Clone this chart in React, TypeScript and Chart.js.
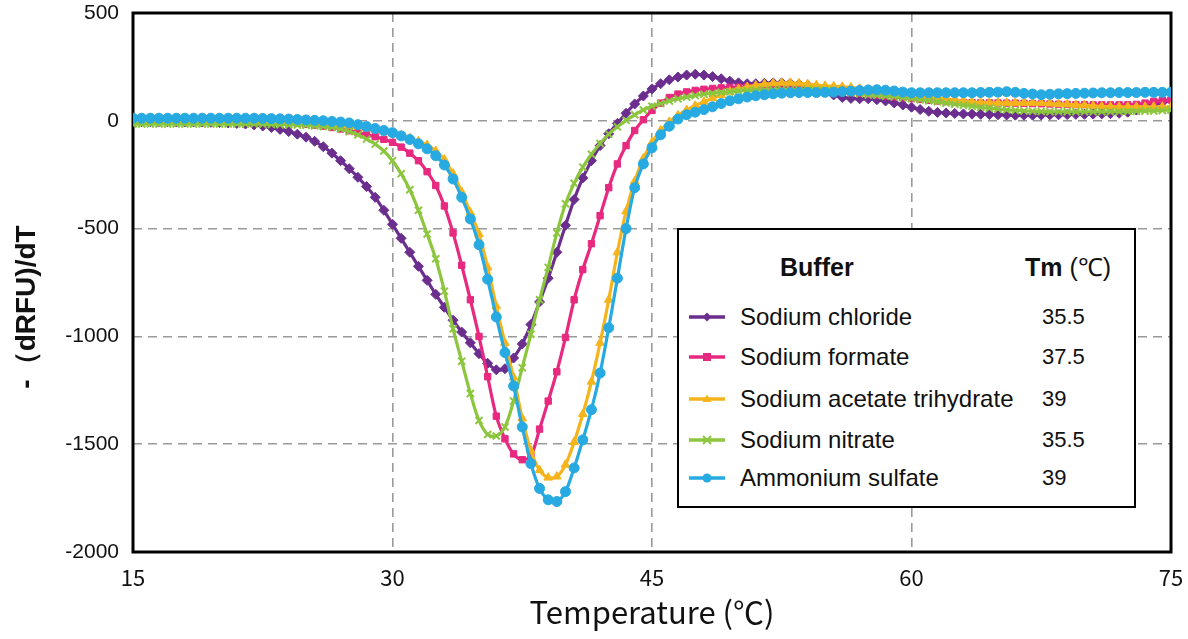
import React, { useEffect, useRef } from "react";
import { Chart, registerables } from "chart.js";
Chart.register(...registerables);

const temperatures = [
  15, 15.5, 16, 16.5, 17, 17.5, 18, 18.5, 19, 19.5,
  20, 20.5, 21, 21.5, 22, 22.5, 23, 23.5, 24, 24.5,
  25, 25.5, 26, 26.5, 27, 27.5, 28, 28.5, 29, 29.5,
  30, 30.5, 31, 31.5, 32, 32.5, 33, 33.5, 34, 34.5,
  35, 35.5, 36, 36.5, 37, 37.5, 38, 38.5, 39, 39.5,
  40, 40.5, 41, 41.5, 42, 42.5, 43, 43.5, 44, 44.5,
  45, 45.5, 46, 46.5, 47, 47.5, 48, 48.5, 49, 49.5,
  50, 50.5, 51, 51.5, 52, 52.5, 53, 53.5, 54, 54.5,
  55, 55.5, 56, 56.5, 57, 57.5, 58, 58.5, 59, 59.5,
  60, 60.5, 61, 61.5, 62, 62.5, 63, 63.5, 64, 64.5,
  65, 65.5, 66, 66.5, 67, 67.5, 68, 68.5, 69, 69.5,
  70, 70.5, 71, 71.5, 72, 72.5, 73, 73.5, 74, 74.5,
  75,
];

const sodiumChloride = [
  -4, -4, -4, -4, -4, -5, -5, -5, -6, -7,
  -8, -10, -12, -15, -19, -24, -31, -40, -50, -62,
  -76, -95, -120, -150, -185, -222, -262, -305, -355, -415,
  -480, -545, -610, -675, -740, -805, -865, -925, -980, -1030,
  -1080, -1125, -1155, -1150, -1100, -1035, -945, -840, -730, -610,
  -485, -365, -265, -185, -115, -60, -12, 35, 78, 115,
  148, 172, 190, 203, 212, 216, 212, 205, 195, 184,
  176, 172, 172, 174, 176, 176, 174, 170, 165, 152,
  135, 120, 108, 104, 102, 102, 98, 92, 83, 73,
  63, 52, 44, 39, 36, 34, 32, 31, 30, 29,
  28, 27, 26, 26, 26, 27, 28, 28, 29, 30,
  30, 31, 32, 33, 35, 40, 50, 62, 75, 86,
  95,
];

const sodiumFormate = [
  3, 3, 3, 3, 3, 3, 3, 3, 3, 3,
  3, 3, 2, 1, 0, -2, -4, -6, -9, -12,
  -16, -20, -25, -31, -38, -46, -55, -64, -74, -86,
  -100, -122, -150, -185, -236, -300, -395, -520, -670, -830,
  -1000, -1187, -1370, -1475, -1545, -1572, -1555, -1430, -1300, -1164,
  -1005, -830, -690, -570, -440, -310, -200, -115, -45, 5,
  48, 82, 108, 124, 134, 141, 146, 150, 153, 155,
  156, 157, 157, 157, 156, 155, 154, 152, 150, 147,
  143, 139, 135, 131, 127, 123, 119, 115, 111, 107,
  103, 99, 95, 92, 89, 87, 85, 84, 83, 83,
  83, 82, 82, 81, 80, 79, 78, 77, 76, 75,
  75, 74, 74, 74, 74, 74, 76, 82, 90, 94,
  97,
];

const sodiumAcetateTrihydrate = [
  -3, -3, -3, -3, -3, -3, -3, -3, -3, -3,
  -3, -3, -4, -4, -4, -5, -5, -6, -6, -7,
  -8, -10, -12, -15, -18, -23, -28, -35, -42, -50,
  -58, -68, -80, -95, -112, -140, -180, -245, -330, -425,
  -525, -680, -860, -1030, -1190, -1380, -1530, -1620, -1655, -1650,
  -1595, -1490, -1360, -1210, -1030, -830, -610, -420, -280, -175,
  -100, -45, -5, 25, 50, 70, 88, 105, 120, 135,
  147, 157, 164, 170, 174, 176, 176, 174, 170, 166,
  162, 160, 158, 155, 150, 145, 140, 137, 134, 130,
  125, 120, 114, 108, 102, 97, 92, 88, 85, 84,
  83, 83, 83, 83, 83, 82, 80, 78, 76, 74,
  72, 70, 67, 66, 65, 65, 65, 65, 65, 65,
  65,
];

const sodiumNitrate = [
  -15, -15, -15, -15, -15, -15, -15, -15, -15, -15,
  -15, -15, -15, -15, -15, -16, -17, -18, -19, -20,
  -21, -23, -26, -30, -38, -50, -65, -85, -108, -140,
  -185, -245, -320, -415, -525, -640, -790, -965, -1115, -1265,
  -1390, -1455, -1462, -1420, -1300, -1145, -990, -830, -680, -520,
  -385, -290, -215, -155, -105, -62, -28, 2, 28, 50,
  67, 80, 92, 102, 110, 117, 123, 128, 132, 135,
  138, 140, 142, 143, 144, 145, 145, 145, 145, 144,
  143, 140, 135, 130, 125, 120, 118, 115, 112, 107,
  103, 98, 93, 88, 82, 77, 72, 67, 62, 58,
  55, 51, 48, 46, 44, 43, 42, 42, 42, 42,
  42, 42, 42, 42, 42, 43, 44, 45, 46, 48,
  50,
];

const ammoniumSulfate = [
  12, 12, 12, 12, 12, 12, 12, 12, 12, 12,
  12, 12, 12, 12, 12, 11, 10, 9, 8, 6,
  4, 2, 0, -3, -6, -10, -18, -27, -36, -45,
  -55, -70, -87, -107, -130, -162, -205, -270, -355, -455,
  -575, -735, -910, -1075, -1230, -1420, -1590, -1705, -1758, -1766,
  -1720, -1610, -1480, -1340, -1170, -960, -730, -500, -310, -200,
  -125, -65, -25, 8, 28, 40, 52, 65, 80, 93,
  102, 110, 116, 121, 125, 128, 130, 131, 131, 131,
  132, 133, 135, 138, 140, 143, 144, 142, 138, 133,
  130, 130, 130, 130, 130, 130, 130, 130, 131, 132,
  133, 135, 132, 127, 124, 121, 123, 125, 126, 127,
  128, 129, 130, 130, 131, 131, 131, 132, 132, 132,
  132,
];

const bufferNames = [
  "Sodium chloride",
  "Sodium formate",
  "Sodium acetate trihydrate",
  "Sodium nitrate",
  "Ammonium sulfate",
];
const tmValues = ["35.5", "37.5", "39", "35.5", "39"];
const seriesColors = ["#6b2e8f", "#e7297f", "#f5b41c", "#8cc63e", "#27a9e1"];
const seriesMarkers = ["rectRot", "rect", "triangle", "crossRot", "circle"];
const seriesValues = [
  sodiumChloride,
  sodiumFormate,
  sodiumAcetateTrihydrate,
  sodiumNitrate,
  ammoniumSulfate,
];

const xMin = 15;
const xMax = 75;
const xStep = 15;
const yMin = -2000;
const yMax = 500;
const yStep = 500;
const yTitle = "-（dRFU)/dT";
const xTitle = "Temperature (℃)";

const LEGEND_FONT = "'Liberation Sans', Arial, sans-serif";
const NARROW_FONT = "'Liberation Sans Narrow', 'Noto Sans CJK TC', sans-serif";

function MarkerSample({ color, marker }: { color: string; marker: string }) {
  const c = 18;
  const m = 7;
  let shape: any = null;
  if (marker === "rectRot") {
    shape = <polygon points={`${c},${m - 4.5} ${c + 4.5},${m} ${c},${m + 4.5} ${c - 4.5},${m}`} fill={color} />;
  } else if (marker === "rect") {
    shape = <rect x={c - 4} y={m - 4} width={8} height={8} fill={color} />;
  } else if (marker === "triangle") {
    shape = <polygon points={`${c},${m - 4.5} ${c + 4.5},${m + 3} ${c - 4.5},${m + 3}`} fill={color} />;
  } else if (marker === "crossRot") {
    shape = (
      <g stroke={color} strokeWidth={2}>
        <line x1={c - 4} y1={m - 4} x2={c + 4} y2={m + 4} />
        <line x1={c - 4} y1={m + 4} x2={c + 4} y2={m - 4} />
      </g>
    );
  } else {
    shape = <circle cx={c} cy={m} r={4.5} fill={color} />;
  }
  return (
    <svg width={36} height={14} style={{ display: "block" }}>
      <line x1={0} y1={m} x2={36} y2={m} stroke={color} strokeWidth={3.5} />
      {shape}
    </svg>
  );
}

const borderPlugin = {
  id: "plotBorder",
  beforeDatasetsDraw(chart: any) {
    const { ctx, chartArea } = chart;
    ctx.save();
    ctx.strokeStyle = "#000";
    ctx.lineWidth = 3;
    ctx.strokeRect(chartArea.left, chartArea.top, chartArea.right - chartArea.left, chartArea.bottom - chartArea.top);
    ctx.restore();
  },
  afterDraw(chart: any) {
    const { ctx } = chart;
    ctx.save();
    ctx.translate(27, 307);
    ctx.rotate(-Math.PI / 2);
    ctx.fillStyle = "#111";
    ctx.font = `bold 28px ${LEGEND_FONT}`;
    ctx.textAlign = "center";
    ctx.textBaseline = "middle";
    ctx.fillText(yTitle, 0, 0);
    ctx.restore();
  },
};

export default function App() {
  const canvasRef = useRef<HTMLCanvasElement | null>(null);

  useEffect(() => {
    if (!canvasRef.current) return;
    const datasets = bufferNames.map((name, i) => {
      const mk = seriesMarkers[i];
      return {
        label: name,
        data: temperatures.map((t, j) => ({ x: t, y: seriesValues[i][j] })),
        borderColor: seriesColors[i],
        backgroundColor: seriesColors[i],
        borderWidth: 3.2,
        pointStyle: mk,
        pointRadius: mk === "rect" ? 4.5 : 5,
        pointBorderWidth: mk === "crossRot" ? 2 : 1,
        pointBorderColor: seriesColors[i],
        pointBackgroundColor: seriesColors[i],
        tension: 0.3,
        order: 5 - i,
      };
    });

    const hideEdge = (lo: number, hi: number) => (ctx: any) => {
      const v = ctx.tick ? ctx.tick.value : null;
      return v === lo || v === hi ? "rgba(0,0,0,0)" : "#9a9a9a";
    };

    const chart = new Chart(canvasRef.current, {
      type: "line",
      data: { datasets },
      plugins: [borderPlugin],
      options: {
        animation: false,
        responsive: false,
        maintainAspectRatio: false,
        layout: { padding: { top: 13, right: 17, left: 0, bottom: 0 } },
        plugins: { legend: { display: false }, tooltip: { enabled: false } },
        scales: {
          x: {
            type: "linear",
            min: xMin,
            max: xMax,
            ticks: {
              stepSize: xStep,
              padding: 12,
              maxRotation: 0,
              autoSkip: false,
              color: "#111",
              font: { family: NARROW_FONT, size: 22 },
            },
            grid: { drawTicks: false, color: hideEdge(xMin, xMax), lineWidth: 1.6 },
            border: { display: false, dash: [9, 6] },
            title: {
              display: true,
              text: xTitle,
              color: "#111",
              font: { family: NARROW_FONT, size: 31 },
              padding: { top: 0, bottom: 8 },
            },
            afterFit: (s: any) => {
              s.height = 87;
              s.paddingLeft = 0;
              s.paddingRight = 0;
            },
          },
          y: {
            type: "linear",
            min: yMin,
            max: yMax,
            ticks: {
              stepSize: yStep,
              padding: 14,
              color: "#111",
              font: { family: LEGEND_FONT, size: 21 },
              callback: (v: any) => String(v),
            },
            grid: { drawTicks: false, color: hideEdge(yMax, yMin), lineWidth: 1.6 },
            border: { display: false, dash: [9, 6] },
            title: { display: false },
            afterFit: (s: any) => {
              s.width = 133;
              s.paddingTop = 0;
              s.paddingBottom = 0;
            },
          },
        },
      },
    } as any);
    return () => chart.destroy();
  }, []);

  const rowTops = [317, 357, 399, 440, 478];

  return (
    <div style={{ position: "fixed", left: 0, top: 0, width: 1188, height: 639, background: "#fff" }}>
      <canvas ref={canvasRef} width={1188} height={639} style={{ display: "block" }} />
      <div
        style={{
          position: "absolute",
          left: 677,
          top: 228,
          width: 455,
          height: 276,
          border: "2px solid #000",
          background: "#fff",
          fontFamily: LEGEND_FONT,
          color: "#111",
        }}
      >
        <div style={{ position: "absolute", left: 101, top: 265 - 228 - 17, fontSize: 25, fontWeight: "bold", lineHeight: "34px" }}>
          Buffer
        </div>
        <div style={{ position: "absolute", left: 346, top: 265 - 228 - 17, fontSize: 25, lineHeight: "34px", whiteSpace: "nowrap" }}>
          <span style={{ fontWeight: "bold" }}>Tm</span> (℃)
        </div>
        {bufferNames.map((name, i) => (
          <React.Fragment key={name}>
            <div style={{ position: "absolute", left: 10, top: rowTops[i] - 228 - 7 - 2 }}>
              <MarkerSample color={seriesColors[i]} marker={seriesMarkers[i]} />
            </div>
            <div style={{ position: "absolute", left: 61, top: rowTops[i] - 228 - 15 - 2, fontSize: 24, lineHeight: "30px", whiteSpace: "nowrap" }}>
              {name}
            </div>
            <div style={{ position: "absolute", left: 363, top: rowTops[i] - 228 - 15 - 2, fontSize: 22, lineHeight: "30px" }}>
              {tmValues[i]}
            </div>
          </React.Fragment>
        ))}
      </div>
    </div>
  );
}
